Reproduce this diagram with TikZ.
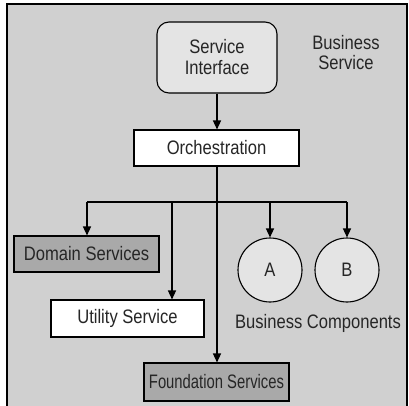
\documentclass[tikz,border=0pt]{standalone}
\usepackage{fontspec}
\setmainfont{Liberation Sans}[FakeStretch=0.85]
\newfontfamily\fnarrow{Liberation Sans}[FakeStretch=0.76]
\usetikzlibrary{arrows.meta}
\definecolor{bg}{HTML}{D0D0D0}
\definecolor{light}{HTML}{E4E4E4}
\definecolor{dark}{HTML}{A9A9A9}
\tikzset{
  txt/.style={font=\fontsize{19.5}{21}\selectfont, text=black!85},
  box/.style={txt, draw=black, line width=1.1pt, inner sep=0pt},
  lbl/.style={txt, inner sep=0pt},
  comp/.style={txt, draw=black, line width=1.1pt, fill=light, circle, minimum size=64pt, inner sep=0pt},
  arr/.style={line width=1.4pt, -{Triangle[length=9pt,width=8pt]}},
  ln/.style={line width=1.4pt}
}
\begin{document}
\begin{tikzpicture}[x=1pt,y=-1pt]
\useasboundingbox (0,0) rectangle (409,406);
\fill[bg] (7,4) rectangle (407,406);
\draw[line width=1.2pt] (7,406) -- (7,4) -- (407,4) -- (407,406);
% nodes
\node[box, fill=light, rounded corners=12pt, minimum width=120pt, minimum height=71pt, align=center] (si) at (217,57.5) {Service\\Interface};
\node[lbl, align=center] (bs) at (346,53) {Business\\[-1pt]Service};
\node[box, fill=white, minimum width=165pt, minimum height=36pt] (orch) at (216.5,148) {Orchestration};
\node[box, fill=dark, minimum width=145pt, minimum height=36pt] (dom) at (86.5,254) {Domain Services};
\node[box, fill=white, minimum width=153pt, minimum height=37pt] (util) at (127.5,318.5) {Utility Service};
\node[box, fill=dark, minimum width=145pt, minimum height=38pt] (found) at (216.5,382) {\fnarrow Foundation Services};
\node[comp] (a) at (270,270) {A};
\node[comp] (b) at (347,270) {B};
\node[lbl] (bc) at (318,323) {Business Components};
% connectors
\coordinate (j) at (217,202);
\coordinate (jl) at (87,202);
\coordinate (jr) at (347,202);
\draw[arr] (si.south) -- (si.south |- orch.north);
\draw[ln] (orch.south -| j) -- (j);
\draw[arr] (j) -- (found.north -| j);
\draw[ln] (jl) -- (jr);
\draw[arr] (jl) -- (jl |- dom.north);
\draw[arr] (172,202) -- (util.north -| 172,0);
\draw[arr] (270,202) -- (a.north);
\draw[arr] (jr) -- (b.north);
\end{tikzpicture}
\end{document}
